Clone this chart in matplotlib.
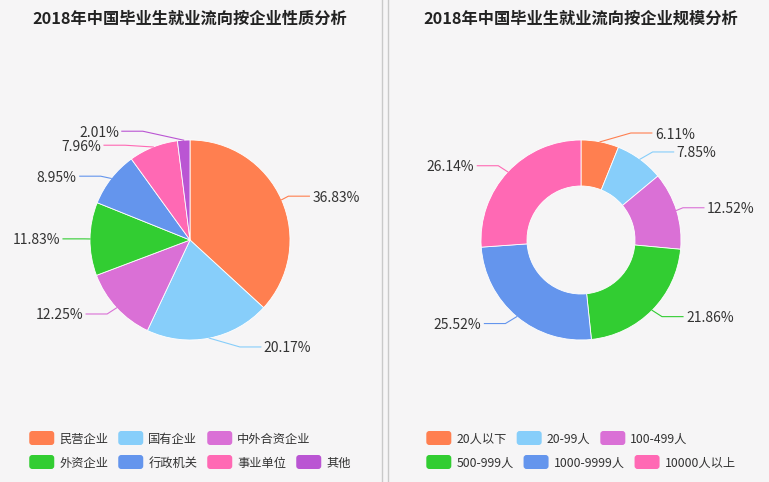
import math
import matplotlib
matplotlib.use("Agg")
import matplotlib.pyplot as plt
from matplotlib.patches import FancyBboxPatch
from matplotlib.lines import Line2D

plt.rcParams['font.family'] = ['Noto Sans CJK SC', 'DejaVu Sans']

# ---------------- data ----------------
title_left = "2018年中国毕业生就业流向按企业性质分析"
title_right = "2018年中国毕业生就业流向按企业规模分析"

nature_labels = ["民营企业", "国有企业", "中外合资企业", "外资企业", "行政机关", "事业单位", "其他"]
nature_values = [36.83, 20.17, 12.25, 11.83, 8.95, 7.96, 2.01]

size_labels = ["20人以下", "20-99人", "100-499人", "500-999人", "1000-9999人", "10000人以上"]
size_values = [6.11, 7.85, 12.52, 21.86, 25.52, 26.14]

palette = ['#ff7f50', '#87cefa', '#da70d6', '#32cd32', '#6495ed', '#ff69b4', '#ba55d3']

# ---------------- layout (pixels) ----------------
W, H = 769, 482
BG = '#f6f5f6'
TEXT = '#333333'

fig = plt.figure(figsize=(W / 100, H / 100), dpi=100, facecolor=BG)
ax = fig.add_axes([0, 0, 1, 1])
ax.set_facecolor(BG)


def layout_labels(values, cx, cy, r, len1=9, len2=21, h=14):
    """echarts-like outside label layout, in y-down pixel coordinates"""
    total = float(sum(values))
    items = []
    acc = 0.0
    for i, v in enumerate(values):
        mid = (acc + v / 2) / total * 2 * math.pi
        acc += v
        dx, dy = math.sin(mid), -math.cos(mid)
        side = 1 if dx >= 0 else -1
        x1 = cx + (r + len1) * dx
        items.append(dict(i=i, v=v, dx=dx, dy=dy, side=side,
                          ex=cx + r * dx, ey=cy + r * dy,
                          y=cy + (r + len1) * dy,
                          x=x1 + side * (len2 + 3)))
    R = r + len1 + len2
    for side in (1, -1):
        lst = sorted([it for it in items if it['side'] == side], key=lambda t: t['y'])
        n = len(lst)

        def shift_up(end, delta):
            for j in range(end, -1, -1):
                lst[j]['y'] -= delta
                if j > 0 and lst[j]['y'] > lst[j - 1]['y'] + h:
                    break

        def shift_down(start, end, delta):
            for j in range(start, end):
                lst[j]['y'] += delta
                if j > start and j + 1 < end and lst[j + 1]['y'] > lst[j]['y'] + h:
                    shift_up(j, delta / 2)
                    return
            shift_up(end - 1, delta / 2)

        last_y = 0
        for j in range(n):
            d = lst[j]['y'] - last_y
            if d < 0:
                shift_down(j, n, -d)
            last_y = lst[j]['y'] + h
        up = [it for it in lst if it['y'] < cy]
        down = [it for it in lst if it['y'] >= cy]
        for group, is_down in ((up, False), (down, True)):
            last = float('inf') if is_down else 0.0
            for it in group:
                dyy = abs(it['y'] - cy)
                if dyy < r + len1:
                    dxx = math.sqrt(R * R - dyy * dyy)
                else:
                    dxx = abs(it['x'] - cx)
                if is_down and dxx >= last:
                    dxx = last - 10
                if (not is_down) and dxx <= last:
                    dxx = last + 10
                it['x'] = cx + side * dxx
                last = dxx
    for it in items:
        it['bx'] = it['x'] - it['side'] * (3 + len2)
        it['lx'] = it['x'] - it['side'] * 3
    return items


def draw_pie(values, colors, cx, cy, r, inner=None):
    wp = dict(linewidth=0.6, edgecolor='white')
    if inner is not None:
        wp['width'] = r - inner
    ax.pie(values, colors=colors, startangle=90, counterclock=False,
           center=(cx, H - cy), radius=r, wedgeprops=wp, frame=True)
    for it in layout_labels(values, cx, cy, r):
        col = colors[it['i']]
        ax.add_line(Line2D([it['ex'], it['bx'], it['lx']],
                           [H - it['ey'], H - it['y'], H - it['y']],
                           color=col, linewidth=0.8, zorder=3))
        ax.text(it['x'], H - it['y'], f"{it['v']:.2f}%", fontsize=10, color=TEXT,
                ha='left' if it['side'] > 0 else 'right', va='center_baseline', zorder=4)


def draw_legend(labels, colors, center_x, row_ys, max_w=340, bw=25, bh=14, pad=5, gap=10):
    renderer = fig.canvas.get_renderer()
    widths = []
    for lab in labels:
        t = ax.text(0, 0, lab, fontsize=8.8)
        widths.append(t.get_window_extent(renderer=renderer).width)
        t.remove()
    rows, cur, cur_w = [], [], 0
    for k, w in enumerate(widths):
        iw = bw + pad + w
        add = iw if not cur else gap + iw
        if cur and cur_w + add > max_w:
            rows.append((cur, cur_w))
            cur, cur_w = [], 0
            add = iw
        cur.append(k)
        cur_w += add
    rows.append((cur, cur_w))
    block = max(rw for _, rw in rows)
    x0 = center_x - block / 2
    for (row, _), yy in zip(rows, row_ys):
        x = x0
        for k in row:
            ax.add_patch(FancyBboxPatch((x, H - yy - bh / 2), bw, bh,
                                        boxstyle="round,pad=0,rounding_size=3",
                                        facecolor=colors[k], edgecolor='none'))
            ax.text(x + bw + pad, H - yy, labels[k], fontsize=8.8, color=TEXT,
                    ha='left', va='center_baseline')
            x += bw + pad + widths[k] + gap


# left panel
draw_pie(nature_values, palette, 190, 240, 100)
ax.text(190, H - 19, title_left, fontsize=11.7, fontweight='bold', color='#222222',
        ha='center', va='center')
draw_legend(nature_labels, palette, 190, [438, 462])

# right panel
draw_pie(size_values, palette[:6], 581, 240, 100, inner=54)
ax.text(581, H - 19, title_right, fontsize=11.7, fontweight='bold', color='#222222',
        ha='center', va='center')
draw_legend(size_labels, palette[:6], 581, [438, 462])

# panel separators
for xs in (382, 388):
    fig.add_artist(Line2D([xs / W, xs / W], [0, 1], color='#c9c9c9', linewidth=1))

ax.set_xlim(0, W)
ax.set_ylim(0, H)
ax.set_aspect('auto')
ax.axis('off')

fig.savefig('out.png', dpi=100, facecolor=BG)
